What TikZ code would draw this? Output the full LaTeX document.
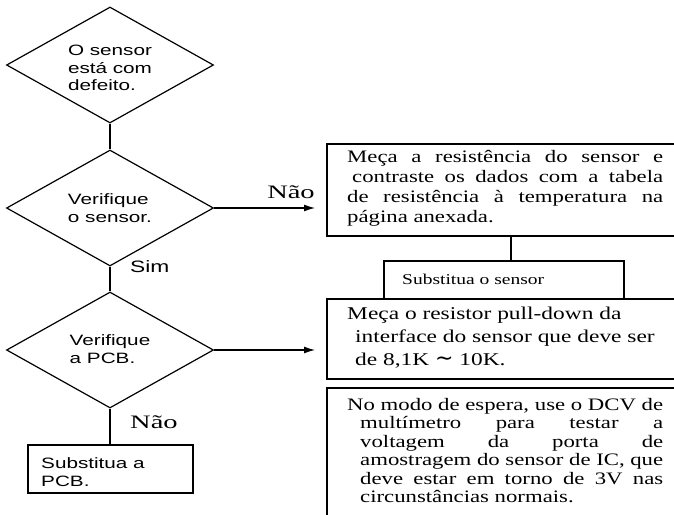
\documentclass[tikz,border=0pt]{standalone}
\usepackage{fontspec}
\usetikzlibrary{shapes.geometric,arrows.meta}
\newfontfamily\sansw{Liberation Sans}[FakeStretch=1.38]
\newfontfamily\serifw{Liberation Serif}[FakeStretch=1.3]
\newfontfamily\labelw{Liberation Serif}[FakeStretch=1.5]
\newfontfamily\symw{DejaVu Sans}

\tikzset{
  decision/.style={diamond, draw, line width=1.2pt, inner sep=0pt, aspect=1.78,
    minimum width=207pt, minimum height=116pt},
  dtext/.style={inner sep=0pt, align=left,
    font=\sansw\fontsize{15}{17.5}\selectfont},
  pbox/.style={draw, line width=1.8pt, inner sep=0pt, anchor=north west},
  flowline/.style={line width=1.2pt},
  flowarrow/.style={line width=1.2pt, -{Latex[length=11pt,width=7pt]}},
  sertext/.style={inner sep=0pt, anchor=north west, align=justify,
    font=\serifw\fontsize{17.5}{18.5}\selectfont},
  sanslabel/.style={inner sep=0pt, font=\sansw\fontsize{16.5}{18}\selectfont},
  serlabel/.style={inner sep=0pt, font=\labelw\fontsize{19}{21}\selectfont}
}

\begin{document}
\begin{tikzpicture}[x=1pt,y=-1pt]
\useasboundingbox (0,0) rectangle (674,514);
\clip (0,0) rectangle (674,514);

% left column: decisions
\node[decision] (d1) at (110,65) {};
\node[dtext] (d1t) at (110,68) {O sensor\\está com\\defeito.};
\node[decision] (d2) at (110,208) {};
\node[dtext] (d2t) at (110,208) {Verifique\\o sensor.};
\node[decision] (d3) at (110,350) {};
\node[dtext] (d3t) at (110,349) {Verifique\\a PCB.};
\node[pbox, minimum width=165pt, minimum height=48pt] (pcb) at (27,444) {};
\node[dtext, anchor=west] (pcbt) at (41,472) {Substitua a\\PCB.};

\draw[flowline] (d1.south) -- (d2.north);
\draw[flowline] (d2.south) -- (d3.north);
\draw[flowline] (d3.south) -- (pcb.north -| d3.south);

\node[sanslabel, anchor=west] (sim) at (130,267) {Sim};
\node[serlabel, anchor=west] (nao2) at (130,422) {Não};

% right column: procedures
\node[pbox, minimum width=364pt, minimum height=92pt] (b1) at (326,143) {};
\node[sertext, text width=316pt, font=\serifw\fontsize{17.5}{20}\selectfont]
  (t1) at (347,150)
  {Meça a resistência do sensor e\linebreak
   \hspace*{5pt}contraste os dados com a tabela\linebreak
   de resistência à temperatura na\linebreak
   página anexada.};

\node[pbox, minimum width=240pt, minimum height=38pt] (sub) at (383,260) {};
\node[inner sep=0pt, anchor=west, font=\serifw\fontsize{15}{17}\selectfont]
  (subt) at (402,279) {Substitua o sensor};

\node[pbox, minimum width=364pt, minimum height=80pt] (b2) at (326,298) {};
\node[inner sep=0pt, anchor=north west, align=left,
  font=\serifw\fontsize{18}{23}\selectfont] (t2) at (347,307)
  {Meça o resistor pull-down da\\
   \hspace*{8pt}interface do sensor que deve ser\\
   \hspace*{8pt}de 8,1K {\symw\fontsize{22}{23}\selectfont ∼} 10K.};

\node[pbox, minimum width=364pt, minimum height=140pt] (b3) at (326,387) {};
\node[sertext, text width=316pt] (t3) at (347,398)
  {No modo de espera, use o DCV de\linebreak
   \hspace*{13pt}multímetro para testar a\linebreak
   \hspace*{13pt}voltagem da porta de\linebreak
   \hspace*{13pt}amostragem do sensor de IC, que\linebreak
   \hspace*{13pt}deve estar em torno de 3V nas\linebreak
   \hspace*{13pt}circunstâncias normais.};

% connectors
\coordinate (e1) at ([xshift=-11pt]b1.west |- d2.east);
\coordinate (e2) at ([xshift=-11pt]b2.west |- d3.east);
\draw[flowarrow] (d2.east) -- (e1);
\draw[flowarrow] (d3.east) -- (e2);
\node[serlabel, anchor=south] (nao1) at (291,199) {Não};
\draw[line width=1.8pt] ([xshift=7pt]sub.north) -- ([xshift=7pt]sub.north |- b1.south);
\end{tikzpicture}
\end{document}
